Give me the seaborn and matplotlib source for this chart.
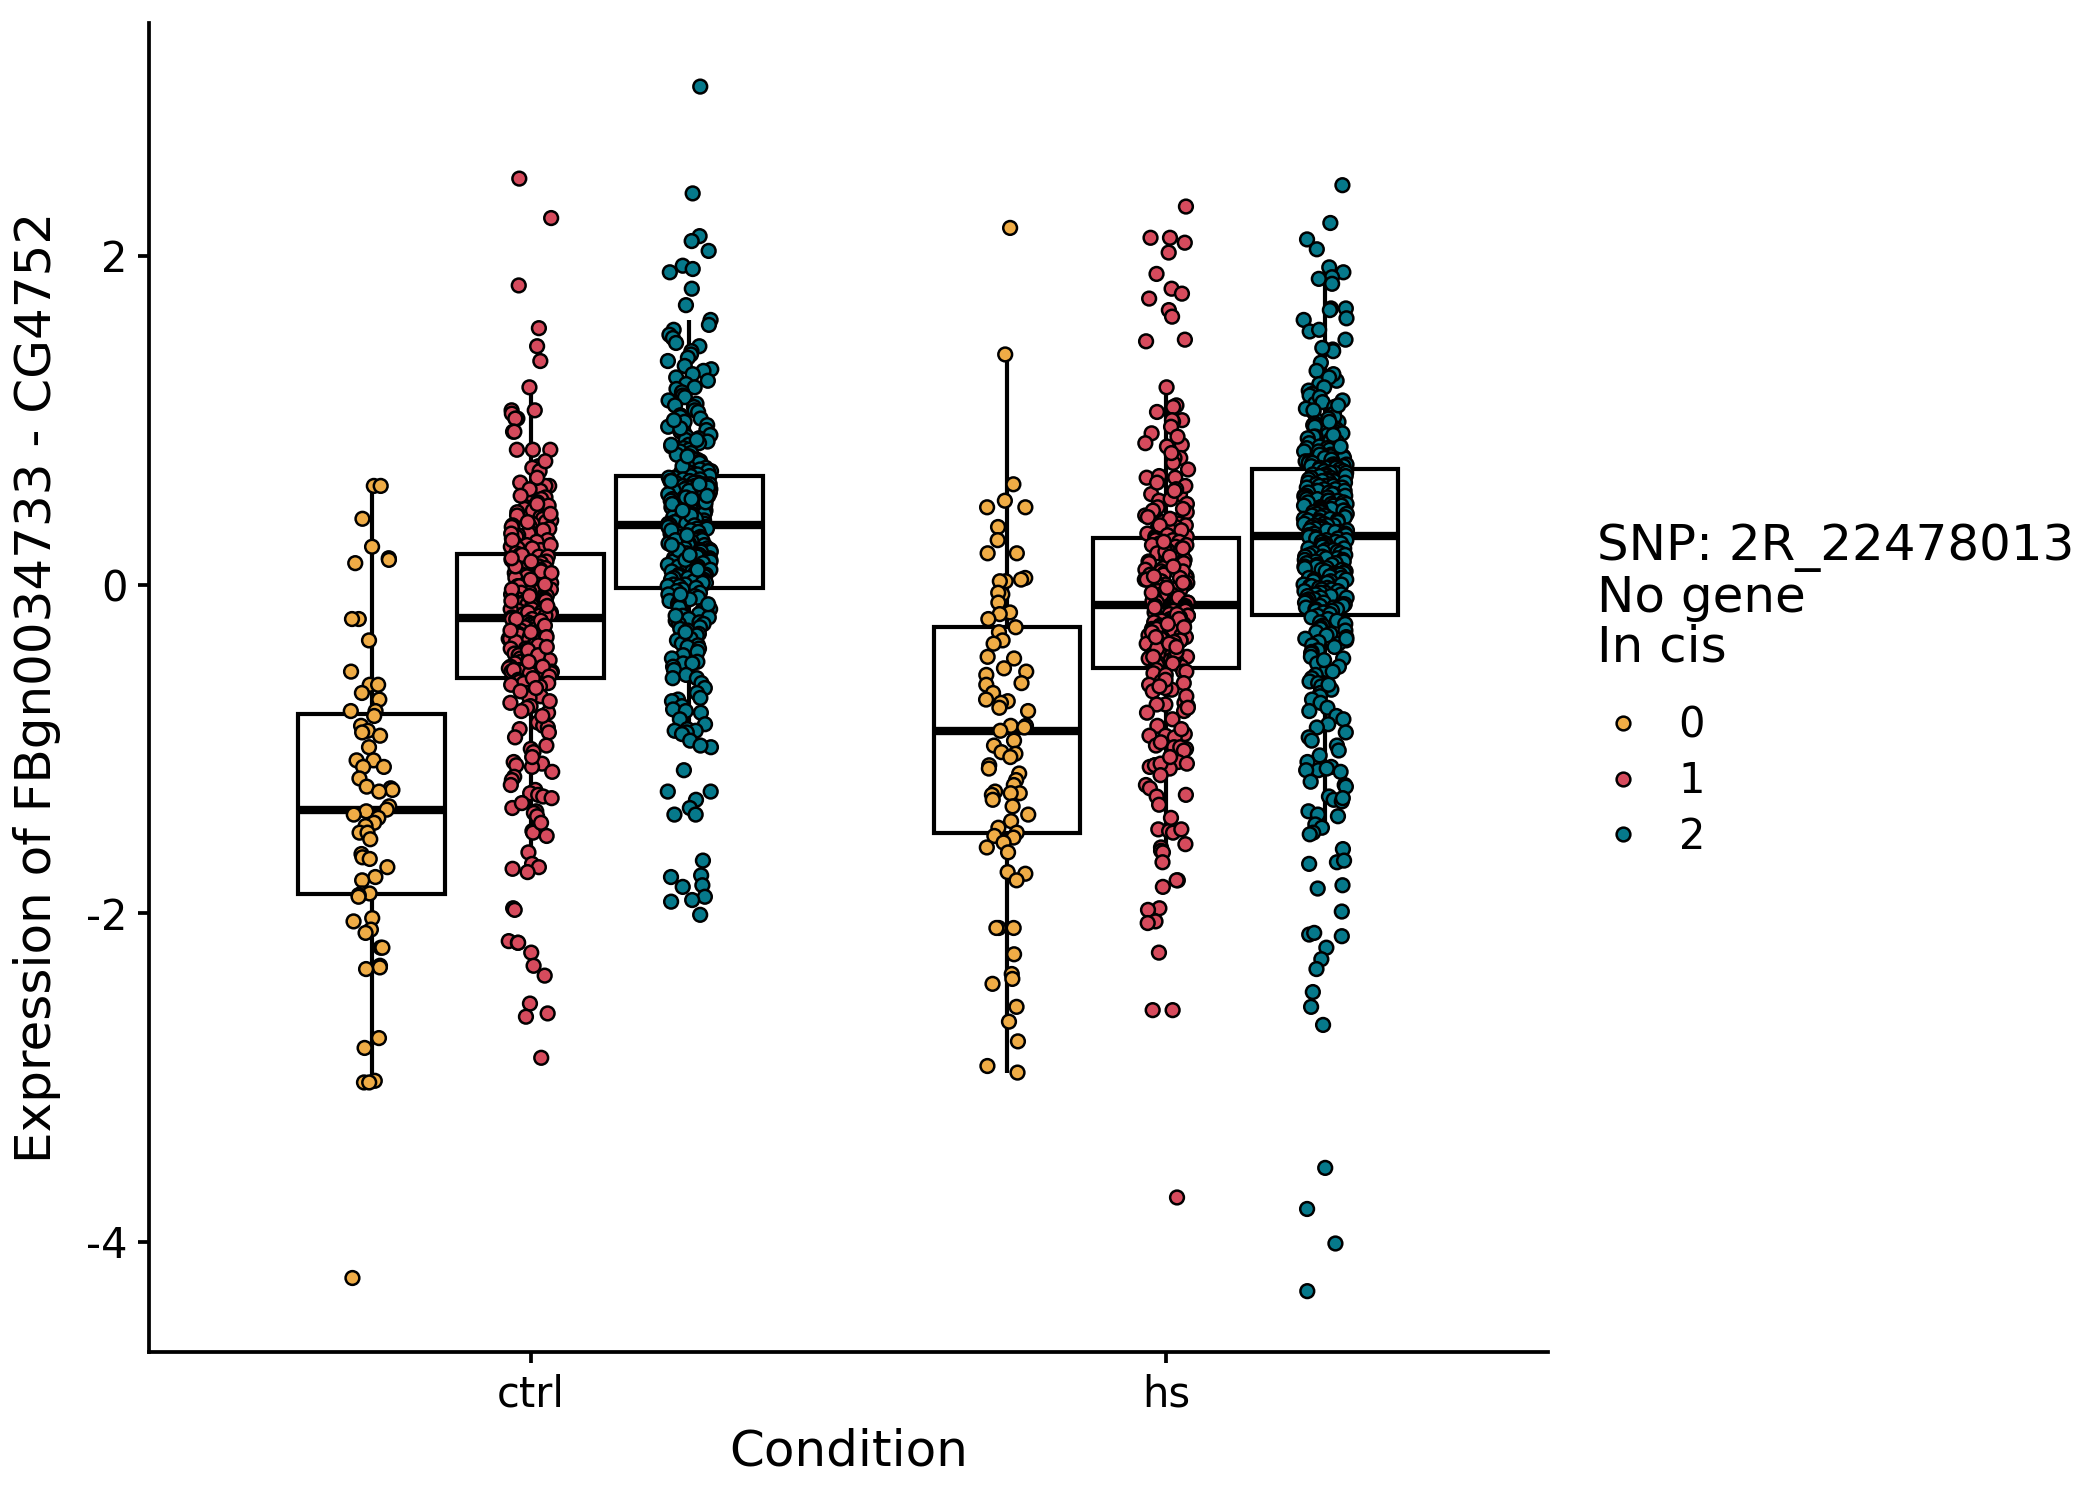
import numpy as np
import pandas as pd
import matplotlib
matplotlib.use("Agg")
import matplotlib.pyplot as plt
from matplotlib.lines import Line2D
import seaborn as sns

# ---------------- data ----------------
conditions = ["ctrl", "hs"]
genotypes = ["0", "1", "2"]
genotype_colors = ["#EFAC46", "#D64B5D", "#06798B"]
legend_title = "SNP: 2R_22478013\nNo gene\nIn cis"
x_title = "Condition"
y_title = "Expression of FBgn0034733 - CG4752"
y_ticks = [-4, -2, 0, 2]

expr_ctrl_0 = [0.60, 0.60, 0.40, 0.23, 0.16, 0.15, 0.13, -0.21, -0.21, -0.34, -0.53, -0.61, -0.61,
               -0.66, -0.70, -0.77, -0.77, -0.80, -0.86, -0.89, -0.90, -0.92, -0.99, -1.07, -1.07,
               -1.11, -1.11, -1.18, -1.23, -1.24, -1.25, -1.26, -1.35, -1.37, -1.38, -1.40, -1.42,
               -1.45, -1.47, -1.51, -1.51, -1.55, -1.64, -1.66, -1.67, -1.72, -1.78, -1.80, -1.88,
               -1.88, -1.89, -1.90, -2.03, -2.05, -2.10, -2.12, -2.21, -2.21, -2.32, -2.33, -2.34,
               -2.76, -2.82, -3.02, -3.03, -3.03, -4.22]

expr_ctrl_1 = [2.47, 2.23, 1.82, 1.56, 1.45, 1.36, 1.20, 1.06, 1.06, 1.04, 1.01, 1.01, 0.93, 0.93,
               0.82, 0.82, 0.82, 0.72, 0.71, 0.69, 0.62, 0.60, 0.60, 0.57, 0.55, 0.53, 0.52, 0.50,
               0.48, 0.47, 0.46, 0.45, 0.44, 0.42, 0.41, 0.40, 0.39, 0.38, 0.37, 0.36, 0.35, 0.34,
               0.33, 0.32, 0.31, 0.30, 0.29, 0.28, 0.27, 0.26, 0.25, 0.24, 0.23, 0.22, 0.21,
               0.65, 0.58, 0.54, 0.49, 0.43, 0.38, 0.35, 0.31, 0.27, 0.24, 0.22, 0.75,
               0.19, 0.18, 0.17, 0.17, 0.16, 0.15, 0.14, 0.13, 0.13, 0.12, 0.11, 0.10, 0.09, 0.09,
               0.08, 0.07, 0.06, 0.05, 0.04, 0.04, 0.03, 0.02, 0.01, 0.00, -0.01, -0.01, -0.02,
               -0.03, -0.04, -0.05, -0.05, -0.06, -0.07, -0.08, -0.09, -0.09, -0.10, -0.11, -0.12,
               -0.12, -0.13, -0.14, -0.14, -0.15, -0.16, -0.16, -0.17, -0.17, -0.18, -0.18, -0.19,
               -0.19, -0.15, -0.06, 0.08,
               0.18, 0.14, 0.11, 0.07, 0.03, 0.00, -0.03, -0.07, -0.10, -0.13, -0.17, 0.16,
               -0.20, -0.21, -0.21, -0.22, -0.23, -0.24, -0.24, -0.25, -0.26, -0.27, -0.27, -0.28,
               -0.29, -0.30, -0.30, -0.31, -0.32, -0.33, -0.33, -0.34, -0.35, -0.36, -0.36, -0.37,
               -0.38, -0.39, -0.39, -0.40, -0.41, -0.42, -0.42, -0.43, -0.44, -0.45, -0.45, -0.46,
               -0.47, -0.48, -0.48, -0.49, -0.50, -0.50, -0.51, -0.51, -0.52, -0.52, -0.53, -0.53,
               -0.53, -0.54, -0.54, -0.22, -0.35, -0.44, -0.31,
               -0.21, -0.25, -0.28, -0.32, -0.37, -0.40, -0.43, -0.47, -0.50, -0.52, -0.29, -0.38,
               -0.56, -0.58, -0.59, -0.60, -0.60, -0.61, -0.62, -0.66, -0.68, -0.69, -0.74, -0.75,
               -0.77, -0.78, -0.84, -0.86, -0.87, -0.88, -0.90, -0.98, -1.00, -1.02, -1.08, -1.09,
               -1.10, -1.11, -1.17, -1.19, -1.25, -1.27, -1.28, -1.29, -1.30, -1.36, -1.38, -1.39,
               -1.41, -1.50, -1.51, -1.53, -1.63, -1.70, -1.72, -1.73, -1.75, -1.97, -1.98, -2.17,
               -2.18, -2.18, -2.24, -2.32, -2.38, -2.55, -2.61, -2.63, -2.88,
               -0.57, -0.63, -0.65, -0.71, -0.80, -0.93, -1.05, -1.14, -1.22, -1.33, -1.45, -0.72]

expr_ctrl_2 = [3.03, 2.38, 2.12, 2.09, 2.03, 1.94, 1.92, 1.90, 1.80, 1.70, 1.61, 1.58, 1.55, 1.52,
               1.50, 1.47, 1.45, 1.42, 1.40, 1.38, 1.36, 1.33, 1.31, 1.30, 1.28, 1.26, 1.24, 1.22,
               1.20, 1.19, 1.17, 1.15, 1.14, 1.12, 1.10, 1.09, 1.08, 1.06, 1.05, 1.03, 1.02, 1.01,
               0.99, 0.98, 0.97, 0.96, 0.94, 0.93, 0.92, 0.91, 0.90, 0.89, 0.88, 0.87, 0.86, 0.85,
               0.84, 0.83, 0.82, 0.81, 0.80, 0.79, 0.78, 0.77, 0.76, 0.75, 0.74, 0.73, 0.72, 0.71,
               0.71, 0.70, 0.69, 0.69, 0.68, 0.68, 0.67, 0.67, 0.66, 0.72, 0.78, 0.85, 0.95, 1.00,
               0.88,
               0.66, 0.65, 0.65, 0.64, 0.64, 0.63, 0.63, 0.62, 0.62, 0.62, 0.61, 0.61, 0.60, 0.60,
               0.59, 0.59, 0.58, 0.58, 0.58, 0.57, 0.57, 0.56, 0.56, 0.55, 0.55, 0.55, 0.54, 0.54,
               0.53, 0.53, 0.52, 0.52, 0.51, 0.51, 0.51, 0.50, 0.50, 0.49, 0.49, 0.48, 0.48, 0.48,
               0.47, 0.47, 0.46, 0.46, 0.45, 0.45, 0.44, 0.44, 0.44, 0.43, 0.43, 0.42, 0.42, 0.41,
               0.41, 0.41, 0.40, 0.40, 0.39, 0.39, 0.39, 0.38, 0.38, 0.38, 0.37, 0.37, 0.37, 0.60,
               0.57, 0.53, 0.50, 0.46, 0.43, 0.40, 0.63, 0.56, 0.49, 0.42, 0.59, 0.52, 0.45, 0.61,
               0.54,
               0.36, 0.36, 0.35, 0.35, 0.34, 0.34, 0.33, 0.33, 0.32, 0.32, 0.31, 0.31, 0.30, 0.30,
               0.29, 0.29, 0.28, 0.28, 0.27, 0.27, 0.26, 0.26, 0.25, 0.25, 0.24, 0.24, 0.23, 0.23,
               0.22, 0.22, 0.21, 0.21, 0.20, 0.20, 0.19, 0.19, 0.18, 0.18, 0.17, 0.17, 0.16, 0.16,
               0.15, 0.15, 0.14, 0.14, 0.13, 0.13, 0.12, 0.12, 0.11, 0.11, 0.10, 0.10, 0.09, 0.09,
               0.08, 0.08, 0.07, 0.07, 0.06, 0.06, 0.05, 0.05, 0.04, 0.04, 0.03, 0.03, 0.02, 0.02,
               0.01, 0.01, 0.00, 0.00, -0.01, -0.01, -0.02, 0.33, 0.27, 0.21, 0.15, 0.09, 0.30,
               0.18, 0.24,
               -0.03, -0.04, -0.05, -0.06, -0.07, -0.08, -0.09, -0.10, -0.11, -0.12, -0.13, -0.14,
               -0.15, -0.16, -0.17, -0.18, -0.19, -0.20, -0.21, -0.22, -0.23, -0.24, -0.24, -0.26,
               -0.27, -0.28, -0.30, -0.31, -0.33, -0.34, -0.36, -0.37, -0.38, -0.39, -0.41, -0.43,
               -0.45, -0.47, -0.48, -0.48, -0.50, -0.52, -0.55, -0.57, -0.57, -0.60, -0.63, -0.66,
               -0.69, -0.70, -0.71, -0.74, -0.76, -0.77, -0.78, -0.82, -0.85, -0.88, -0.89, -0.89,
               -0.90, -0.91, -0.95, -0.99, -0.98, -0.06, -0.12, -0.19, -0.29,
               -1.13, -1.26, -1.26, -1.31, -1.36, -1.40, -1.40, -1.68, -1.77, -1.78, -1.83, -1.84,
               -1.90, -1.92, -1.93, -2.01]

expr_hs_0 = [2.17, 1.40, 0.61, 0.51, 0.47, 0.47, 0.35, 0.27, 0.19, 0.19, 0.04, 0.02, 0.03, 0.02,
             -0.06, -0.05, -0.11, -0.17, -0.18, -0.21, -0.26, -0.29, -0.34, -0.36, -0.44, -0.45,
             -0.51, -0.53, -0.55, -0.60, -0.61, -0.66, -0.70, -0.71, -0.72, -0.75, -0.77, -0.86,
             -0.86, -0.87, -0.89, -0.95, -0.98, -1.02, -1.03, -1.05, -1.10, -1.12, -1.15, -1.19,
             -1.22, -1.26, -1.27, -1.27, -1.28, -1.31, -1.35, -1.40, -1.44, -1.48, -1.51, -1.53,
             -1.54, -1.57, -1.60, -1.63, -1.75, -1.76, -1.80, -2.09, -2.09, -2.09, -2.25, -2.37,
             -2.40, -2.43, -2.57, -2.66, -2.78, -2.93, -2.97]

expr_hs_1 = [2.30, 2.11, 2.11, 2.08, 2.02, 1.89, 1.80, 1.77, 1.74, 1.67, 1.63, 1.49, 1.48, 1.20,
             1.09, 1.08, 1.00, 0.99, 1.00, 0.96, 0.92, 0.85, 0.84, 0.86, 0.77, 0.77, 0.74, 0.65,
             0.65, 0.66, 0.55, 0.55, 0.51, 0.42, 0.42, 0.39, 0.39, 0.38, 0.34, 0.60, 0.58, 0.49,
             0.47, 0.45, 0.44, 0.41, 0.37, 0.36, 0.35, 0.33, 0.32, 0.31, 0.31, 0.30, 0.30, 0.29,
             0.29,
             0.70, 0.62, 0.52, 0.46, 0.40, 0.36, 0.33, 0.30, 0.80, 0.90, 1.05, 0.57,
             0.28, 0.27, 0.27, 0.26, 0.25, 0.24, 0.24, 0.23, 0.22, 0.21, 0.21, 0.20, 0.19, 0.18,
             0.18, 0.17, 0.16, 0.15, 0.15, 0.14, 0.13, 0.12, 0.12, 0.11, 0.10, 0.09, 0.09, 0.08,
             0.07, 0.06, 0.06, 0.05, 0.04, 0.03, 0.03, 0.02, 0.01, 0.00, 0.00, -0.01, -0.02,
             -0.03, -0.03, -0.04, -0.05, -0.06, -0.06, -0.07, -0.08, -0.09, -0.09, -0.10, -0.11,
             -0.11, -0.12, 0.20, 0.05,
             0.26, 0.22, 0.17, 0.13, 0.08, 0.04, 0.01, -0.02, -0.05, -0.08, -0.11, 0.11,
             -0.13, -0.13, -0.14, -0.15, -0.16, -0.16, -0.17, -0.18, -0.19, -0.19, -0.20, -0.21,
             -0.22, -0.22, -0.23, -0.24, -0.25, -0.25, -0.26, -0.27, -0.28, -0.28, -0.29, -0.30,
             -0.31, -0.31, -0.32, -0.33, -0.34, -0.34, -0.35, -0.36, -0.37, -0.37, -0.38, -0.39,
             -0.40, -0.40, -0.41, -0.42, -0.43, -0.43, -0.44, -0.45, -0.46, -0.46, -0.47, -0.48,
             -0.49, -0.49, -0.50, -0.50, -0.20, -0.27, -0.33, -0.39, -0.45,
             -0.14, -0.18, -0.21, -0.24, -0.29, -0.32, -0.36, -0.41, -0.44, -0.48, -0.26, -0.38,
             -0.53, -0.53, -0.52, -0.54, -0.60, -0.59, -0.61, -0.64, -0.63, -0.65, -0.72, -0.73,
             -0.74, -0.73, -0.78, -0.77, -0.86, -0.91, -0.92, -0.93, -0.92, -0.98, -0.99, -1.00,
             -0.99, -1.01, -1.08, -1.09, -1.10, -1.11, -1.10, -1.12, -1.09, -1.22, -1.24, -1.29,
             -1.34, -1.49, -1.50, -1.51, -1.49, -1.60, -1.58, -1.62, -1.63, -1.69, -1.80, -1.80,
             -1.84, -1.97, -1.98, -2.05, -2.06, -2.24, -2.59, -2.59, -3.73,
             -0.55, -0.58, -0.62, -0.68, -0.75, -0.82, -0.88, -0.96, -1.05, -1.16, -1.28, -1.42]

expr_hs_2 = [2.43, 2.20, 2.10, 2.04, 1.93, 1.90, 1.87, 1.86, 1.83, 1.68, 1.68, 1.67, 1.61, 1.62,
             1.54, 1.55, 1.49, 1.43, 1.42, 1.44, 1.35, 1.30, 1.24, 1.22, 1.18, 1.16, 1.15, 1.12,
             1.10, 1.05, 1.03, 1.00, 0.99, 1.28, 1.26, 1.20, 1.14, 1.11, 1.08, 1.07, 1.06, 1.04,
             1.02, 1.01, 0.98, 0.97, 0.96, 0.96, 0.95, 0.94, 0.93, 0.93, 0.92, 0.91, 0.90, 0.90,
             0.89, 0.88, 0.87, 0.87, 0.86, 0.85, 0.85, 0.84, 0.83, 0.83, 0.82, 0.81, 0.81, 0.80,
             0.79, 0.79, 0.78, 0.78, 0.77, 0.77, 0.76, 0.76, 0.75, 0.75, 0.74, 0.74, 0.73, 0.73,
             0.73, 0.72, 0.72, 0.72, 0.71, 0.71, 0.71, 1.09, 0.99, 0.91, 0.84,
             0.70, 0.70, 0.69, 0.69, 0.68, 0.68, 0.68, 0.67, 0.67, 0.66, 0.66, 0.66, 0.65, 0.65,
             0.64, 0.64, 0.63, 0.63, 0.63, 0.62, 0.62, 0.61, 0.61, 0.60, 0.60, 0.60, 0.59, 0.59,
             0.58, 0.58, 0.57, 0.57, 0.57, 0.56, 0.56, 0.55, 0.55, 0.54, 0.54, 0.54, 0.53, 0.53,
             0.52, 0.52, 0.51, 0.51, 0.51, 0.50, 0.50, 0.49, 0.49, 0.48, 0.48, 0.48, 0.47, 0.47,
             0.46, 0.46, 0.45, 0.45, 0.45, 0.44, 0.44, 0.43, 0.43, 0.42, 0.42, 0.42, 0.41, 0.41,
             0.40, 0.40, 0.39, 0.39, 0.39, 0.38, 0.38, 0.37, 0.37, 0.36, 0.36, 0.36, 0.35, 0.35,
             0.34, 0.34, 0.33, 0.33, 0.33, 0.32, 0.32, 0.31, 0.31, 0.30, 0.30,
             0.29, 0.29, 0.28, 0.28, 0.27, 0.27, 0.26, 0.26, 0.25, 0.25, 0.24, 0.24, 0.23, 0.23,
             0.22, 0.22, 0.21, 0.21, 0.20, 0.20, 0.19, 0.19, 0.18, 0.18, 0.17, 0.17, 0.16, 0.16,
             0.15, 0.15, 0.14, 0.14, 0.13, 0.13, 0.12, 0.12, 0.11, 0.11, 0.10, 0.10, 0.09, 0.09,
             0.08, 0.08, 0.07, 0.07, 0.06, 0.06, 0.05, 0.05, 0.04, 0.04, 0.03, 0.03, 0.02, 0.02,
             0.01, 0.01, 0.00, 0.00, -0.01, -0.01, -0.02, -0.02, -0.03, -0.03, -0.04, -0.04,
             -0.05, -0.05, -0.06, -0.06, -0.07, -0.07, -0.08, -0.08, -0.09, -0.09, -0.10, -0.10,
             -0.11, -0.11, -0.12, -0.12, -0.13, -0.13, -0.14, -0.14, -0.15, -0.15, -0.16, -0.16,
             -0.17, -0.17, -0.18,
             -0.19, -0.20, -0.21, -0.22, -0.23, -0.24, -0.25, -0.26, -0.27, -0.28, -0.29, -0.30,
             -0.31, -0.32, -0.33, -0.34, -0.35, -0.36, -0.37, -0.38, -0.40, -0.41, -0.42, -0.44,
             -0.45, -0.47, -0.48, -0.50, -0.52, -0.53, -0.55, -0.57, -0.59, -0.60, -0.62, -0.64,
             -0.66, -0.68, -0.70, -0.72, -0.75, -0.77, -0.80, -0.82, -0.85, -0.87, -0.90, -0.93,
             -0.95, -0.98, -1.01, -1.04, -1.08, -1.11, -1.13, -1.14, -1.13, -1.12, -1.20, -1.22,
             -1.23, -1.29, -1.31, -1.32, -1.30, -1.38, -1.40, -1.41, -1.46, -1.48, -0.33, -0.46,
             -0.61,
             -1.51, -1.52, -1.61, -1.69, -1.70, -1.68, -1.83, -1.85, -1.99, -2.13, -2.12, -2.14,
             -2.21, -2.28, -2.34, -2.48, -2.57, -2.68, -3.55, -3.80, -4.01, -4.30]

groups = [("ctrl", "0", expr_ctrl_0), ("ctrl", "1", expr_ctrl_1), ("ctrl", "2", expr_ctrl_2),
          ("hs", "0", expr_hs_0), ("hs", "1", expr_hs_1), ("hs", "2", expr_hs_2)]
records = [(c, g, v) for c, g, vals in groups for v in vals]
df = pd.DataFrame(records, columns=["Condition", "SNP", "Expression"])

palette = dict(zip(genotypes, genotype_colors))

# ---------------- style ----------------
sns.set_style("ticks")
plt.rcParams["font.family"] = ["DejaVu Sans"]
plt.rcParams["axes.unicode_minus"] = False
plt.rcParams["text.color"] = "black"
plt.rcParams["axes.labelcolor"] = "black"
plt.rcParams["xtick.color"] = "black"
plt.rcParams["ytick.color"] = "black"

fig = plt.figure(figsize=(7, 5), dpi=300)
ax = fig.add_axes([0.071, 0.0987, 0.666, 0.8863])

sns.boxplot(data=df, x="Condition", y="Expression", hue="SNP",
            order=conditions, hue_order=genotypes,
            palette={g: "white" for g in genotypes},
            dodge=True, width=0.75, gap=0.08, fill=True,
            linecolor="black", linewidth=1.0,
            medianprops=dict(linewidth=2.0, color="black"),
            showfliers=False, showcaps=False, legend=False, ax=ax)

n_before = len(ax.collections)
np.random.seed(3)
sns.stripplot(data=df, x="Condition", y="Expression", hue="SNP",
              order=conditions, hue_order=genotypes, palette=palette,
              dodge=True, jitter=0.11, size=3.3, linewidth=0.6,
              edgecolor="black", legend=False, zorder=3, ax=ax)
# align the dodged points with the box positions (dodge width 0.75 instead of 0.8)
for coll in ax.collections[n_before:]:
    off = np.asarray(coll.get_offsets()).copy()
    if len(off):
        ctr = np.round(off[:, 0])
        off[:, 0] = ctr + (off[:, 0] - ctr) * 0.75 / 0.8
        coll.set_offsets(off)

ax.set_xlim(-0.6, 1.6)
ax.set_ylim(-4.67, 3.42)
ax.set_yticks(y_ticks)
ax.set_yticklabels([str(t) for t in y_ticks])
ax.set_xlabel(x_title, fontsize=12, labelpad=3, color="black")
ax.set_ylabel(y_title, fontsize=12, labelpad=6, color="black")
ax.tick_params(axis="both", labelsize=10, length=2.6, width=0.9, color="black",
               labelcolor="black", pad=2.5)
for s in ["top", "right"]:
    ax.spines[s].set_visible(False)
for s in ["left", "bottom"]:
    ax.spines[s].set_linewidth(0.9)
    ax.spines[s].set_color("black")

handles = [Line2D([], [], marker="o", linestyle="", markersize=3.3,
                  markerfacecolor=c, markeredgecolor="black", markeredgewidth=0.6)
           for c in genotype_colors]
leg = ax.legend(handles, genotypes, title=legend_title, loc="upper left",
                bbox_to_anchor=(0.7505, 0.665), bbox_transform=fig.transFigure,
                frameon=False, fontsize=10, title_fontsize=12, borderpad=0,
                handlelength=1.24, handletextpad=0.72, labelspacing=0.32)
leg._legend_box.align = "left"
leg._legend_box.sep = 8.0
leg.get_title().set_linespacing(1.05)
leg.get_title().set_color("black")
for t in leg.get_texts():
    t.set_color("black")

fig.savefig("out.png", dpi=300)
